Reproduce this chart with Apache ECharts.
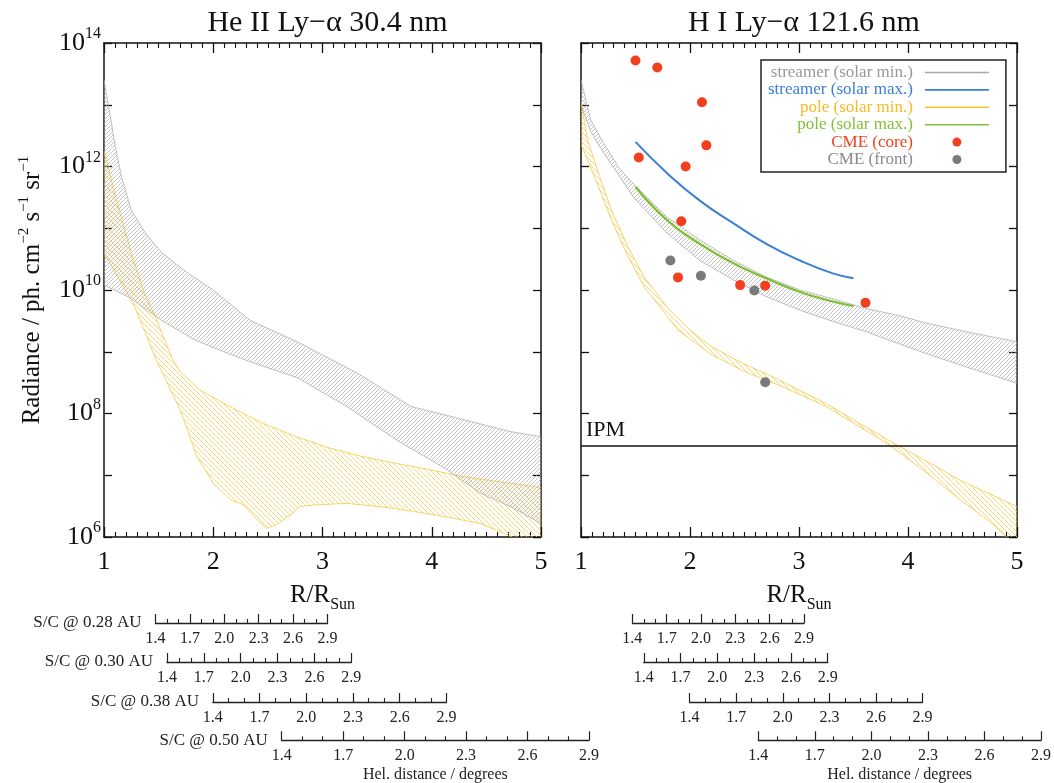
<!DOCTYPE html>
<html>
<head>
<meta charset="utf-8">
<title>He II / H I Ly-alpha radiance</title>
<script src="https://cdn.jsdelivr.net/npm/echarts@6/dist/echarts.min.js"></script>
<style>
    html, body { margin: 0; padding: 0; background: #fff; }
    #container { width: 1054px; height: 783px; }
</style>
</head>
<body>
<div id="container"></div>
<script>
    var FONT = "'Liberation Serif', 'DejaVu Serif', serif";

    // He II Ly-alpha 30.4 nm : streamer (solar min.) band, upper and lower edge
    var heStreamerTopX = [1.0, 1.05, 1.1, 1.16, 1.25, 1.38, 1.53, 1.77, 2.0, 2.34, 2.77, 3.32, 3.81, 4.14, 4.72, 5.0];
    var heStreamerTop = [2.5e13, 7.9e12, 2.3e12, 6.8e11, 1.95e11, 8.3e10, 4.0e10, 1.86e10, 1.0e10, 3.2e9, 1.45e9, 4.5e8, 1.3e8, 9.3e7, 5.1e7, 4.2e7];
    var heStreamerBotX = [1.0, 1.22, 1.53, 1.83, 2.14, 2.4, 2.77, 3.22, 3.68, 4.14, 4.44, 4.72, 5.0];
    var heStreamerBot = [1.2e10, 7.8e9, 3.2e9, 1.55e9, 9.3e8, 6.3e8, 3.8e8, 1.3e8, 3.7e7, 1.23e7, 5.2e6, 3.1e6, 1.66e6];

    // He II : pole (solar min.) band
    var hePoleTopX = [1.0, 1.1, 1.25, 1.37, 1.47, 1.63, 1.70, 1.88, 2.15, 2.46, 2.76, 3.07, 3.37, 3.68, 3.98, 4.29, 4.72, 5.0];
    var hePoleTop = [1.8e12, 3.6e11, 3.9e10, 8.9e9, 3.7e9, 7.4e8, 4.7e8, 2.4e8, 1.3e8, 6.9e7, 4.2e7, 2.75e7, 2.0e7, 1.55e7, 1.23e7, 9.5e6, 7.4e6, 6.3e6];
    var hePoleBotX = [1.0, 1.28, 1.48, 1.70, 1.85, 2.0, 2.16, 2.28, 2.40, 2.49, 2.58, 2.71, 2.79, 2.92, 3.22, 3.53, 3.83, 4.14, 4.44, 4.66, 5.0];
    var hePoleBot = [4.0e10, 5.4e9, 7.2e8, 1.12e8, 2.0e7, 7.4e6, 4.0e6, 3.3e6, 1.9e6, 1.38e6, 1.58e6, 2.3e6, 3.1e6, 3.3e6, 3.5e6, 3.1e6, 2.6e6, 2.1e6, 1.66e6, 1.15e6, 5.6e5];

    // H I Ly-alpha 121.6 nm : streamer (solar min.) band
    var hiStreamerTopX = [1.0, 1.09, 1.19, 1.34, 1.48, 1.79, 2.09, 2.40, 2.70, 3.01, 3.31, 3.62, 3.93, 4.17, 4.6, 5.0];
    var hiStreamerTop = [2.5e13, 5.6e12, 2.7e12, 1.0e12, 5.25e11, 1.51e11, 6.5e10, 3.0e10, 1.62e10, 1.0e10, 7.2e9, 5.0e9, 3.8e9, 2.9e9, 2.0e9, 1.45e9];
    var hiStreamerBotX = [1.0, 1.08, 1.17, 1.48, 1.79, 2.09, 2.40, 2.70, 3.01, 3.31, 3.62, 3.93, 4.17, 4.6, 5.0];
    var hiStreamerBot = [1.0e13, 4.0e12, 2.1e12, 3.2e11, 8.3e10, 3.0e10, 1.45e10, 7.8e9, 4.7e9, 3.1e9, 2.1e9, 1.32e9, 9.3e8, 5.2e8, 3.1e8];

    // H I : pole (solar min.) band
    var hiPoleTopX = [1.0, 1.06, 1.16, 1.28, 1.43, 1.58, 1.8, 2.0, 2.2, 2.5, 2.75, 3.0, 3.25, 3.5, 3.87, 4.2, 4.48, 4.75, 5.0];
    var hiPoleTop = [1.17e13, 2.7e12, 7.8e11, 1.95e11, 5.0e10, 1.62e10, 5.0e9, 2.24e9, 1.2e9, 6.3e8, 4.0e8, 2.4e8, 1.45e8, 7.9e7, 3.3e7, 1.58e7, 8.3e6, 5.0e6, 3.1e6];
    var hiPoleBotX = [1.0, 1.16, 1.28, 1.43, 1.58, 1.89, 2.2, 2.5, 2.81, 3.25, 3.83, 4.2, 4.48, 4.75, 5.0];
    var hiPoleBot = [2.3e12, 4.7e11, 1.35e11, 3.5e10, 1.12e10, 2.24e9, 8.9e8, 4.8e8, 2.9e8, 1.3e8, 3.1e7, 1.0e7, 4.0e6, 1.78e6, 7.1e5];

    // H I : solar max. curves
    var maxX = [1.5, 1.79, 2.09, 2.4, 2.7, 3.01, 3.31, 3.5];
    var streamerMax = [2.5e12, 7.8e11, 2.8e11, 1.2e11, 5.6e10, 3.0e10, 1.86e10, 1.55e10];
    var poleMax = [4.7e11, 1.35e11, 5.6e10, 2.7e10, 1.55e10, 9.3e9, 6.5e9, 5.5e9];

    // H I : CME measurements
    var cmeCoreX = [1.50, 1.70, 2.11, 2.15, 1.53, 1.96, 1.92, 1.89, 2.46, 2.69, 3.61];
    var cmeCore = [5.2e13, 4.0e13, 1.1e13, 2.2e12, 1.4e12, 1.0e12, 1.3e11, 1.6e10, 1.2e10, 1.17e10, 6.2e9];
    var cmeFrontX = [1.82, 2.10, 2.59, 2.69];
    var cmeFront = [3.0e10, 1.7e10, 9.8e9, 3.2e8];

    var ipmRadiance = 3e7;

    // scales under the panels: heliocentric distance in degrees for a S/C at these distances
    var scDistances = [0.28, 0.30, 0.38, 0.50];
    var degTicks = [1.4, 1.7, 2.0, 2.3, 2.6, 2.9];
    var degStep = 0.1;
    var rSunPerAU = 215.03;

    var titles = ['He II Ly\u2212\u03b1 30.4 nm', 'H I Ly\u2212\u03b1 121.6 nm'];

    // ---- layout ----
    var panelLeft = [104, 581], panelWidth = [437, 436], panelTop = 43, panelHeight = 494;
    var barLineY = [623, 662, 702, 741];
    var black = '#111';

    function hatch(color, size, width, dir) {
        var c = document.createElement('canvas');
        c.width = size; c.height = size;
        var ctx = c.getContext('2d');
        ctx.strokeStyle = color;
        ctx.lineWidth = width;
        ctx.beginPath();
        if (dir > 0) {
            ctx.moveTo(-1, size + 1); ctx.lineTo(size + 1, -1);
            ctx.moveTo(-1, 1); ctx.lineTo(1, -1);
            ctx.moveTo(size - 1, size + 1); ctx.lineTo(size + 1, size - 1);
        } else {
            ctx.moveTo(-1, -1); ctx.lineTo(size + 1, size + 1);
            ctx.moveTo(-1, size - 1); ctx.lineTo(1, size + 1);
            ctx.moveTo(size - 1, -1); ctx.lineTo(size + 1, 1);
        }
        ctx.stroke();
        return {image: c, repeat: 'repeat'};
    }

    var greyHatch = hatch('#a4a4a4', 4, 0.65, 1);
    var yellowHatch = hatch('#f8c73c', 5, 0.7, -1);

    function band(name, xi, yi, topX, top, botX, bot, fill, stroke) {
        return {
            name: name, type: 'custom', xAxisIndex: xi, yAxisIndex: yi, clip: true, silent: true,
            data: [[3, 1e10]],
            renderItem: function (params, api) {
                var pts = [], i;
                for (i = 0; i < topX.length; i++) pts.push(api.coord([topX[i], top[i]]));
                for (i = botX.length - 1; i >= 0; i--) pts.push(api.coord([botX[i], bot[i]]));
                return {
                    type: 'polygon', shape: {points: pts},
                    style: {fill: fill, stroke: stroke, lineWidth: 0.7}
                };
            }
        };
    }

    function zip(xs, ys) {
        return xs.map(function (x, i) { return [x, ys[i]]; });
    }

    function mainX(g, pos) {
        var bottom = pos === 'bottom';
        return {
            gridIndex: g, type: 'value', min: 1, max: 5, interval: 1, position: pos,
            axisLine: {show: true, onZero: false, lineStyle: {color: black, width: 1.5}},
            axisTick: {inside: true, length: 10, lineStyle: {color: black, width: 1.3}},
            minorTick: {show: true, splitNumber: 10, length: 5, lineStyle: {color: black, width: 1.1}},
            splitLine: {show: false}, minorSplitLine: {show: false},
            axisLabel: {show: bottom, fontFamily: FONT, fontSize: 26, color: black, margin: 12},
            name: bottom ? '{a|R/R}{b|Sun}' : '', nameLocation: 'middle', nameGap: 40,
            nameTextStyle: {
                rich: {
                    a: {fontFamily: FONT, fontSize: 25, color: black, lineHeight: 36, verticalAlign: 'middle'},
                    b: {fontFamily: FONT, fontSize: 16, color: black, verticalAlign: 'bottom'}
                }
            }
        };
    }

    function mainY(g, pos) {
        var labelled = g === 0 && pos === 'left';
        return {
            gridIndex: g, type: 'log', logBase: 10, min: 1e6, max: 1e14, position: pos,
            axisLine: {show: true, onZero: false, lineStyle: {color: black, width: 1.5}},
            axisTick: {inside: true, length: 8, lineStyle: {color: black, width: 1.3}},
            minorTick: {show: false}, splitLine: {show: false}, minorSplitLine: {show: false},
            axisLabel: {
                show: labelled, margin: 3,
                formatter: function (v) {
                    var e = Math.round(Math.log10(v));
                    return e % 2 === 0 ? '{b|10}{s|' + e + '}' : '';
                },
                rich: {
                    b: {fontFamily: FONT, fontSize: 26, color: black, lineHeight: 34, verticalAlign: 'middle'},
                    s: {fontFamily: FONT, fontSize: 16, color: black, verticalAlign: 'top'}
                }
            },
            name: labelled ? '{r|Radiance / ph. cm}{u|\u22122}{r| s}{u|\u22121}{r| sr}{u|\u22121}' : '',
            nameLocation: 'middle', nameGap: 57,
            nameTextStyle: {
                rich: {
                    r: {fontFamily: FONT, fontSize: 25, color: black, lineHeight: 30, verticalAlign: 'middle'},
                    u: {fontFamily: FONT, fontSize: 15, color: black, verticalAlign: 'top'}
                }
            }
        };
    }

    var LINE_ICON = 'path://M0,0M7,6.2H71V7.8H7ZM71,14';
    var DOT_ICON = 'path://M0,0M34.5,7A4.5,4.5,0,1,1,43.5,7A4.5,4.5,0,1,1,34.5,7ZM71,14';

    function legendItem(name, icon, color, textColor) {
        return {name: name, icon: icon, itemStyle: {color: color, borderWidth: 0}, textStyle: {color: textColor}};
    }

    var option = {
        animation: false,
        backgroundColor: '#fff',
        title: titles.map(function (t, i) {
            return {
                text: t, left: panelLeft[i] + panelWidth[i] / 2, top: 3, textAlign: 'center',
                textStyle: {fontFamily: FONT, fontSize: 30, fontWeight: 'normal', color: black}
            };
        }),
        legend: {
            left: 761, top: 60, orient: 'vertical', align: 'right', selectedMode: false,
            itemWidth: 71, itemHeight: 14, itemGap: 0.4,
            padding: [4, 17, 4, 7], borderColor: '#222', borderWidth: 1.5, backgroundColor: '#fff',
            textStyle: {fontFamily: FONT, fontSize: 17, lineHeight: 17},
            data: [
                legendItem('streamer (solar min.)', LINE_ICON, '#a8a8a8', '#999999'),
                legendItem('streamer (solar max.)', LINE_ICON, '#3b7fd2', '#3b7fd2'),
                legendItem('pole (solar min.)', LINE_ICON, '#fcc22e', '#f8ba26'),
                legendItem('pole (solar max.)', LINE_ICON, '#84c03a', '#84c03a'),
                legendItem('CME (core)', DOT_ICON, '#f2401e', '#f2401e'),
                legendItem('CME (front)', DOT_ICON, '#7a7a7a', '#8a8a8a')
            ]
        },
        grid: [0, 1].map(function (i) {
            return {left: panelLeft[i], top: panelTop, width: panelWidth[i], height: panelHeight};
        }),
        xAxis: [mainX(0, 'bottom'), mainX(0, 'top'), mainX(1, 'bottom'), mainX(1, 'top')],
        yAxis: [mainY(0, 'left'), mainY(0, 'right'), mainY(1, 'left'), mainY(1, 'right')],
        series: [
            band('pole (solar min.)', 0, 0, hePoleTopX, hePoleTop, hePoleBotX, hePoleBot, yellowHatch, '#f6c12e'),
            band('streamer (solar min.)', 0, 0, heStreamerTopX, heStreamerTop, heStreamerBotX, heStreamerBot, greyHatch, '#a8a8a8'),
            band('pole (solar min.)', 2, 2, hiPoleTopX, hiPoleTop, hiPoleBotX, hiPoleBot, yellowHatch, '#f6c12e'),
            band('streamer (solar min.)', 2, 2, hiStreamerTopX, hiStreamerTop, hiStreamerBotX, hiStreamerBot, greyHatch, '#a8a8a8'),
            {
                name: 'streamer (solar max.)', type: 'line', xAxisIndex: 2, yAxisIndex: 2,
                data: zip(maxX, streamerMax), smooth: true, showSymbol: false, symbol: 'none',
                lineStyle: {color: '#3b7fd2', width: 2}, silent: true
            },
            {
                name: 'pole (solar max.)', type: 'line', xAxisIndex: 2, yAxisIndex: 2,
                data: zip(maxX, poleMax), smooth: true, showSymbol: false, symbol: 'none',
                lineStyle: {color: '#7dbd2e', width: 2.2}, silent: true,
                markLine: {
                    silent: true, symbol: ['none', 'none'],
                    lineStyle: {color: black, width: 1.5, type: 'solid'},
                    label: {
                        show: true, position: 'insideStartTop', formatter: 'IPM',
                        fontFamily: FONT, fontSize: 22, color: black
                    },
                    data: [{yAxis: ipmRadiance}]
                }
            },
            {
                name: 'CME (core)', type: 'scatter', xAxisIndex: 2, yAxisIndex: 2,
                data: zip(cmeCoreX, cmeCore), symbolSize: 10,
                itemStyle: {color: '#f2401e', opacity: 1}
            },
            {
                name: 'CME (front)', type: 'scatter', xAxisIndex: 2, yAxisIndex: 2,
                data: zip(cmeFrontX, cmeFront), symbolSize: 10,
                itemStyle: {color: '#7a7a7a', opacity: 1}
            }
        ]
    };

    var chart = echarts.init(document.getElementById('container'));
    chart.setOption(option);

    // degree scales: each one is an axis placed under the R/R_Sun axis it maps to
    var degMax = Math.round((degTicks[degTicks.length - 1] - degTicks[0]) / degStep);
    var degInterval = Math.round((degTicks[1] - degTicks[0]) / degStep);

    function radiusAt(deg, au) {
        return rSunPerAU * au * Math.sin(deg * Math.PI / 180);
    }

    [0, 1].forEach(function (p) {
        scDistances.forEach(function (au, j) {
            var x0 = chart.convertToPixel({xAxisIndex: p * 2}, radiusAt(degTicks[0], au));
            var x1 = chart.convertToPixel({xAxisIndex: p * 2}, radiusAt(degTicks[degTicks.length - 1], au));
            var g = option.grid.length;
            option.grid.push({left: x0, top: barLineY[j] - 1, width: x1 - x0, height: 1});
            option.yAxis.push({gridIndex: g, type: 'value', min: 0, max: 1, show: false});
            option.xAxis.push({
                gridIndex: g, type: 'value', min: 0, max: degMax, interval: degInterval, position: 'bottom',
                axisLine: {show: true, onZero: false, lineStyle: {color: '#222', width: 1.3}},
                axisTick: {inside: true, length: 9, lineStyle: {color: '#222', width: 1.2}},
                minorTick: {show: true, splitNumber: degInterval, length: 4, lineStyle: {color: '#222', width: 1.1}},
                splitLine: {show: false}, minorSplitLine: {show: false},
                axisLabel: {
                    fontFamily: FONT, fontSize: 16, color: '#222', margin: 8,
                    formatter: function (v) { return degTicks[Math.round(v / degInterval)].toFixed(1); }
                },
                name: p === 0 ? 'S/C @ ' + au.toFixed(2) + ' AU' : '',
                nameLocation: 'start', nameGap: 9,
                nameTextStyle: {fontFamily: FONT, fontSize: 17, color: '#222'}
            });
            if (j === scDistances.length - 1) {
                option.xAxis.push({
                    gridIndex: g, type: 'value', min: 0, max: degMax, position: 'bottom',
                    axisLine: {show: false}, axisTick: {show: false}, axisLabel: {show: false},
                    splitLine: {show: false},
                    name: 'Hel. distance / degrees', nameLocation: 'middle', nameGap: 27,
                    nameTextStyle: {fontFamily: FONT, fontSize: 16, color: '#222'}
                });
            }
        });
    });

    chart.setOption(option, true);
</script>
</body>
</html>
